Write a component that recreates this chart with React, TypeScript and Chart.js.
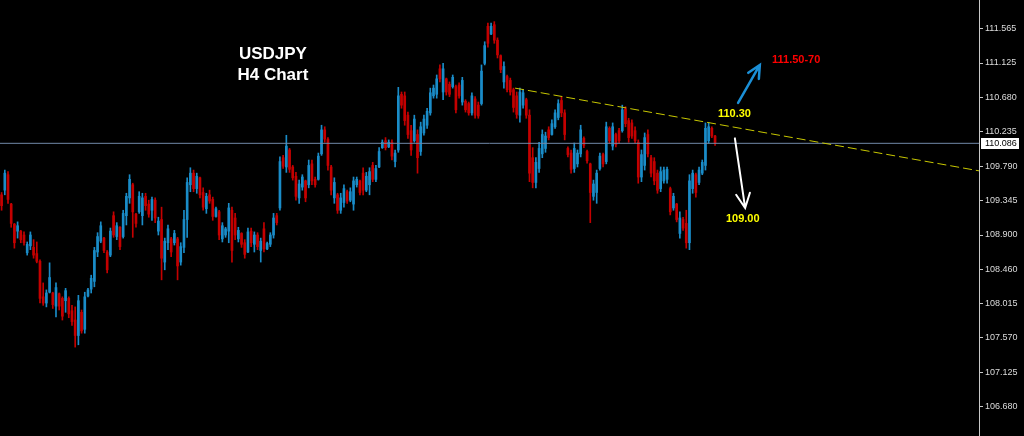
import React, { useEffect, useRef } from 'react';
import { Chart, registerables } from 'chart.js';

Chart.register(...registerables);

// ---- USDJPY H4 candles ----
const OPENS = [
  109.42,109.48,109.68,109.30,109.04,108.95,108.95,108.90,
  108.67,108.76,108.74,108.66,108.56,108.10,108.02,108.16,
  108.15,107.98,108.14,108.08,108.05,108.08,107.92,
  107.80,107.60,107.90,107.68,108.11,108.20,108.30,108.68,
  108.82,108.86,108.68,108.64,109.15,108.88,109.00,108.88,109.15,109.38,
  109.55,109.17,109.20,109.15,109.40,109.30,109.22,109.35,108.95,
  109.10,108.55,108.80,108.85,108.80,108.85,108.55,108.74,109.10,
  109.55,109.70,109.50,109.64,109.45,109.24,109.42,109.36,109.14,109.20,
  108.85,108.90,108.95,109.22,109.12,108.85,108.92,108.80,108.68,108.95,
  108.78,108.90,108.70,108.98,108.72,108.78,108.90,109.15,109.25,109.90,
  109.78,110.00,109.78,109.66,109.38,109.52,109.60,109.55,109.82,109.62,
  109.62,109.95,110.26,110.14,109.78,109.38,109.42,109.22,109.32,109.46,
  109.35,109.30,109.55,109.60,109.70,109.48,109.55,109.80,109.62,109.78,
  110.03,110.12,110.04,110.10,109.85,110.00,110.72,110.70,110.45,110.25,
  110.12,110.20,109.98,110.22,110.32,110.48,110.70,110.72,111.05,110.75,
  110.92,110.85,110.82,110.82,110.84,110.62,110.63,110.60,110.48,110.66,
  110.58,110.60,111.12,111.60,111.50,111.62,111.42,111.22,110.88,110.95,
  110.90,110.78,110.70,110.45,110.58,110.65,110.45,109.90,109.58,109.76,
  109.95,110.02,110.26,110.20,110.30,110.42,110.64,110.48,110.02,109.96,
  109.76,109.82,109.95,110.15,109.98,109.82,109.40,109.45,109.76,109.94,
  109.85,110.28,110.05,110.20,110.25,110.25,110.53,110.38,110.35,110.25,
  110.10,109.65,109.80,110.20,109.90,109.85,109.70,109.50,109.60,109.62,
  109.50,109.25,109.30,108.92,109.10,109.05,108.80,109.50,109.68,109.58,
  109.70,109.80,110.12,110.28,110.18,
];

const HIGHS = [
  109.45,109.74,109.72,109.31,109.05,109.07,108.96,108.94,
  108.81,108.94,108.84,108.81,108.58,108.28,108.19,108.54,
  108.16,108.28,108.15,108.10,108.21,108.10,107.99,
  107.97,108.12,107.93,108.16,108.21,108.38,108.74,108.93,
  109.07,108.87,108.70,108.99,109.20,109.06,109.01,109.22,109.44,109.68,
  109.57,109.18,109.46,109.44,109.44,109.35,109.39,109.38,109.13,
  109.26,108.86,109.03,108.87,108.96,108.87,108.80,109.22,109.64,
  109.77,109.74,109.70,109.65,109.51,109.44,109.48,109.39,109.26,109.22,
  109.06,109.00,109.31,109.26,109.18,109.00,108.93,108.84,108.99,108.99,
  108.94,108.93,108.86,109.06,108.81,108.93,109.18,109.18,109.91,109.93,
  110.19,110.02,109.80,109.71,109.61,109.68,109.61,109.87,109.87,109.65,
  109.96,110.32,110.30,110.16,109.80,109.64,109.44,109.44,109.55,109.48,
  109.51,109.65,109.65,109.61,109.77,109.71,109.77,109.84,109.80,110.03,
  110.13,110.16,110.13,110.13,110.00,110.81,110.75,110.75,110.49,110.32,
  110.45,110.26,110.36,110.45,110.54,110.80,110.84,110.97,111.10,111.12,
  110.93,110.88,110.97,110.84,110.87,110.94,110.65,110.62,110.74,110.69,
  110.62,111.10,111.40,111.64,111.64,111.66,111.45,111.23,111.14,110.97,
  110.93,110.80,110.75,110.80,110.78,110.67,110.52,110.03,109.90,110.10,
  110.26,110.23,110.30,110.39,110.52,110.65,110.69,110.52,110.04,110.00,
  110.09,110.00,110.32,110.17,110.00,109.83,109.61,109.74,109.96,109.96,
  110.36,110.30,110.35,110.22,110.28,110.58,110.56,110.41,110.39,110.30,
  110.13,110.00,110.22,110.26,109.93,109.90,109.74,109.78,109.78,109.78,
  109.52,109.44,109.31,109.20,109.13,109.22,109.68,109.74,109.70,109.78,
  109.87,110.35,110.35,110.30,110.19,
];

const LOWS = [
  109.22,109.42,109.31,109.00,108.73,108.86,108.80,108.77,
  108.64,108.71,108.60,108.54,108.02,107.99,107.97,108.15,
  107.95,107.84,107.93,107.80,107.90,107.83,107.73,
  107.45,107.48,107.63,107.63,108.10,108.15,108.23,108.62,
  108.80,108.67,108.41,108.62,108.87,108.84,108.71,108.86,109.03,109.31,
  108.87,109.00,109.18,109.03,109.22,109.13,109.09,109.06,108.90,
  108.32,108.45,108.71,108.62,108.77,108.32,108.51,108.67,108.87,
  109.46,109.46,109.44,109.38,109.22,109.18,109.31,109.09,109.13,108.84,
  108.81,108.87,108.80,108.55,108.84,108.81,108.74,108.60,108.67,108.75,
  108.68,108.71,108.55,108.68,108.71,108.75,108.86,109.03,109.22,109.76,
  109.71,109.71,109.61,109.35,109.31,109.48,109.33,109.51,109.55,109.52,
  109.61,109.93,110.10,109.74,109.42,109.31,109.18,109.18,109.26,109.31,
  109.33,109.22,109.52,109.42,109.42,109.46,109.42,109.59,109.59,109.77,
  110.02,110.00,110.03,109.87,109.78,109.97,110.54,110.32,110.15,109.93,
  110.10,109.70,109.93,110.19,110.28,110.45,110.67,110.67,110.88,110.65,
  110.71,110.69,110.80,110.48,110.67,110.58,110.49,110.45,110.45,110.41,
  110.41,110.58,111.10,111.33,111.49,111.38,111.19,111.00,110.80,110.75,
  110.71,110.49,110.41,110.36,110.54,110.41,109.59,109.51,109.51,109.71,
  109.90,109.97,110.13,110.19,110.28,110.39,110.43,110.13,109.91,109.70,
  109.71,109.78,109.91,110.03,109.83,109.06,109.35,109.31,109.74,109.78,
  109.82,110.09,110.00,110.04,110.09,110.23,110.30,110.10,110.15,110.09,
  109.57,109.59,109.74,109.91,109.65,109.55,109.44,109.46,109.57,109.57,
  109.16,109.22,109.07,108.86,108.96,108.73,108.71,109.44,109.39,109.55,
  109.68,109.74,110.09,110.16,110.06,
];

const CLOSES = [
  109.28,109.70,109.36,109.05,108.80,109.02,108.84,108.80,
  108.78,108.90,108.64,108.56,108.08,108.02,108.15,108.35,
  108.00,108.22,107.98,107.85,108.18,107.88,107.78,
  107.60,108.05,107.66,108.10,108.19,108.34,108.70,108.88,
  109.02,108.70,108.45,108.95,108.90,109.02,108.75,109.18,109.40,109.62,
  109.20,109.05,109.40,109.38,109.28,109.17,109.36,109.12,109.08,
  108.60,108.82,108.98,108.68,108.92,108.50,108.75,109.10,109.58,
  109.70,109.50,109.66,109.42,109.26,109.40,109.34,109.14,109.24,108.90,
  109.02,108.98,109.25,108.70,108.90,108.96,108.78,108.65,108.94,108.80,
  108.90,108.75,108.82,108.72,108.79,108.90,109.12,109.06,109.85,109.79,
  110.05,109.75,109.64,109.40,109.56,109.65,109.38,109.80,109.60,109.55,
  109.92,110.26,110.14,109.80,109.48,109.58,109.22,109.38,109.50,109.34,
  109.46,109.60,109.62,109.45,109.48,109.66,109.72,109.62,109.76,109.98,
  110.10,110.03,110.10,109.92,109.96,110.70,110.58,110.38,110.20,110.00,
  110.40,109.90,110.30,110.40,110.50,110.74,110.80,110.92,110.92,111.05,
  110.75,110.72,110.94,110.52,110.70,110.90,110.52,110.48,110.70,110.45,
  110.44,111.02,111.35,111.38,111.60,111.42,111.23,111.04,111.08,110.78,
  110.75,110.55,110.46,110.75,110.74,110.45,109.70,109.58,109.84,110.02,
  110.20,110.18,110.16,110.34,110.48,110.60,110.48,110.20,109.94,109.75,
  110.02,109.96,110.26,110.06,109.86,109.45,109.56,109.70,109.92,109.82,
  110.30,110.12,110.30,110.07,110.12,110.52,110.34,110.16,110.18,110.12,
  109.65,109.94,110.16,109.95,109.70,109.60,109.48,109.72,109.74,109.75,
  109.20,109.40,109.10,109.12,108.99,108.80,109.60,109.70,109.45,109.74,
  109.84,110.28,110.30,110.18,110.086,
];

// price axis
const Y_TICKS = [106.68, 107.125, 107.57, 108.015, 108.46, 108.9, 109.345, 109.79, 110.235, 110.68, 111.125, 111.565];
const Y_MIN = 106.30;
const Y_MAX = 111.94;
const X_SLOTS = 306; // candle slots across the full plot width (empty space on the right)
const LAST_PRICE = 110.086;

// dashed resistance trendline
const TREND_X = [160.5, 305.5];
const TREND_Y = [110.80, 109.73];

// annotations (slot index, price)
const BLUE_ARROW = { from: [230.2, 110.61], to: [237.0, 111.10] };
const WHITE_ARROW = { from: [229.2, 110.15], to: [232.4, 109.25] };
const TITLE_LINES = ['USDJPY', 'H4 Chart'];
const TITLE_POS = [[84.8, 111.24], [84.8, 110.96]];
const NOTE_TEXTS = ['111.50-70', '110.30', '109.00'];
const NOTE_POS = [[240.8, 111.16], [223.9, 110.47], [226.4, 109.11]];
const NOTE_COLORS = ['#FF0000', '#FFFF00', '#FFFF00'];

const UP = '#1A8CC8';
const DOWN = '#C40000';

export default function App() {
  const ref = useRef<HTMLCanvasElement | null>(null);

  useEffect(() => {
    document.body.style.margin = '0';
    document.body.style.background = '#000';
    const canvas = ref.current;
    if (!canvas) return;

    const idx = CLOSES.map((_, i) => i);
    const isUp = (i: number) => CLOSES[i] >= OPENS[i];
    const colors = idx.map((i) => (isUp(i) ? UP : DOWN));

    const annotations = {
      id: 'annotations',
      afterDatasetsDraw(chart: any) {
        const { ctx, scales } = chart;
        const px = (v: number) => scales.x.getPixelForValue(v);
        const py = (v: number) => scales.y.getPixelForValue(v);
        const arrow = (a: any, color: string, width: number, head: number) => {
          const x1 = px(a.from[0]), y1 = py(a.from[1]);
          const x2 = px(a.to[0]), y2 = py(a.to[1]);
          const ang = Math.atan2(y2 - y1, x2 - x1);
          ctx.save();
          ctx.strokeStyle = color;
          ctx.lineWidth = width;
          ctx.lineCap = 'round';
          ctx.beginPath();
          ctx.moveTo(x1, y1);
          ctx.lineTo(x2, y2);
          ctx.moveTo(x2 - head * Math.cos(ang - 0.45), y2 - head * Math.sin(ang - 0.45));
          ctx.lineTo(x2, y2);
          ctx.lineTo(x2 - head * Math.cos(ang + 0.45), y2 - head * Math.sin(ang + 0.45));
          ctx.stroke();
          ctx.restore();
        };
        arrow(BLUE_ARROW, '#1B8FD6', 2.5, 14);
        arrow(WHITE_ARROW, '#FFFFFF', 2, 16);

        ctx.save();
        ctx.textBaseline = 'middle';
        ctx.fillStyle = '#FFFFFF';
        ctx.textAlign = 'center';
        ctx.font = 'bold 17px "Liberation Sans", Arial, sans-serif';
        TITLE_LINES.forEach((t, i) => ctx.fillText(t, px(TITLE_POS[i][0]), py(TITLE_POS[i][1])));
        ctx.textAlign = 'left';
        ctx.font = 'bold 11px "Liberation Sans", Arial, sans-serif';
        NOTE_TEXTS.forEach((t, i) => {
          ctx.fillStyle = NOTE_COLORS[i];
          ctx.fillText(t, px(NOTE_POS[i][0]), py(NOTE_POS[i][1]));
        });
        ctx.restore();
      },
      afterDraw(chart: any) {
        const { ctx, scales, chartArea } = chart;
        const y = scales.y.getPixelForValue(LAST_PRICE);
        ctx.save();
        ctx.fillStyle = '#FFFFFF';
        ctx.fillRect(chartArea.right + 2, Math.round(y) - 5, 38, 11);
        ctx.fillStyle = '#000000';
        ctx.font = '9px "Liberation Sans", Arial, sans-serif';
        ctx.textBaseline = 'middle';
        ctx.textAlign = 'left';
        ctx.fillText(LAST_PRICE.toFixed(3), chartArea.right + 6, Math.round(y) + 0.5);
        ctx.restore();
      },
    };

    const chart = new Chart(canvas, {
      type: 'bar',
      data: {
        datasets: [
          {
            type: 'line',
            data: [{ x: -0.5, y: LAST_PRICE }, { x: X_SLOTS - 0.5, y: LAST_PRICE }],
            borderColor: '#7088A8',
            borderWidth: 1,
            pointRadius: 0,
            order: 1,
          } as any,
          {
            type: 'line',
            data: TREND_X.map((x, i) => ({ x, y: TREND_Y[i] })),
            borderColor: '#C8C800',
            borderWidth: 1,
            borderDash: [9, 4],
            pointRadius: 0,
            order: 0,
          } as any,
          {
            type: 'bar',
            data: idx.map((i) => ({ x: i, y: [LOWS[i], HIGHS[i]] })),
            backgroundColor: colors,
            borderWidth: 0,
            barThickness: 1,
            grouped: false,
            order: 3,
          } as any,
          {
            type: 'bar',
            data: idx.map((i) => ({ x: i, y: [OPENS[i], CLOSES[i]] })),
            backgroundColor: colors,
            borderWidth: 0,
            barThickness: 2,
            minBarLength: 1,
            grouped: false,
            order: 2,
          } as any,
        ],
      },
      options: {
        animation: false,
        responsive: true,
        maintainAspectRatio: false,
        events: [],
        layout: { padding: 0 },
        plugins: { legend: { display: false }, tooltip: { enabled: false } },
        scales: {
          x: {
            type: 'linear',
            display: false,
            min: -0.5,
            max: X_SLOTS - 0.5,
            offset: false,
          },
          y: {
            type: 'linear',
            position: 'right',
            min: Y_MIN,
            max: Y_MAX,
            beginAtZero: false,
            grid: { drawOnChartArea: false, drawTicks: true, tickLength: 4, color: '#C8C8C8' },
            border: { display: true, color: '#C8C8C8', width: 1 },
            ticks: {
              autoSkip: false,
              padding: 2,
              color: '#DCDCDC',
              font: { family: '"Liberation Sans", Arial, sans-serif', size: 9 },
              callback: (v: any) => Number(v).toFixed(3),
            },
            afterBuildTicks: (scale: any) => {
              scale.ticks = Y_TICKS.map((value) => ({ value }));
            },
            afterFit: (scale: any) => {
              scale.width = 45;
              scale.paddingTop = 0;
              scale.paddingBottom = 0;
            },
          } as any,
        },
      },
      plugins: [annotations],
    });

    return () => chart.destroy();
  }, []);

  return (
    <div style={{ width: 1024, height: 436, background: '#000', position: 'relative' }}>
      <canvas ref={ref} />
    </div>
  );
}
